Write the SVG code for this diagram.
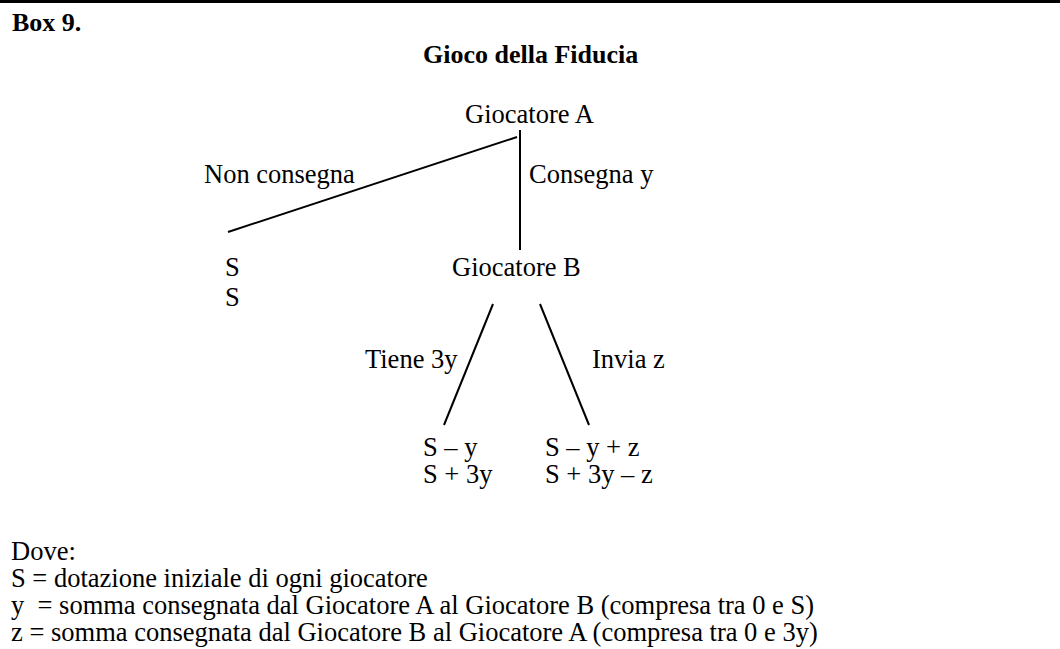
<svg xmlns="http://www.w3.org/2000/svg" width="1060" height="649" viewBox="0 0 1060 649">
<style>
text{font-family:"Liberation Serif","Times New Roman",serif;font-size:26.5px;fill:#000}
.b{font-weight:bold;font-size:26px}
.edge{stroke:#000;stroke-width:2;fill:none}
</style>
<rect x="0" y="0" width="1060" height="649" fill="#fff"/>
<rect x="0" y="0" width="1060" height="3" fill="#000"/>
<g id="header">
<text class="b" x="12" y="31">Box 9.</text>
<text class="b" x="423" y="63">Gioco della Fiducia</text>
</g>
<g id="connectors">
<line class="edge" x1="520" y1="130" x2="520" y2="250"/>
<line class="edge" x1="517" y1="137" x2="228" y2="232"/>
<line class="edge" x1="493" y1="304" x2="444" y2="425"/>
<line class="edge" x1="540" y1="304" x2="589" y2="425"/>
</g>
<g id="edge-labels">
<text x="204" y="183">Non consegna</text>
<text x="529" y="183">Consegna y</text>
<text x="365" y="368">Tiene 3y</text>
<text x="592" y="368">Invia z</text>
</g>
<g id="node-playerA"><text x="465" y="123">Giocatore A</text></g>
<g id="node-playerB"><text x="452" y="276">Giocatore B</text></g>
<g id="node-payoff-no"><text x="225" y="276">S</text><text x="225" y="306">S</text></g>
<g id="node-payoff-keep"><text x="423" y="456">S – y</text><text x="423" y="483">S + 3y</text></g>
<g id="node-payoff-send"><text x="545" y="456">S – y + z</text><text x="545" y="483">S + 3y – z</text></g>
<g id="legend">
<text x="11" y="560">Dove:</text>
<text x="11" y="587">S = dotazione iniziale di ogni giocatore</text>
<text x="11" y="614" xml:space="preserve">y  = somma consegnata dal Giocatore A al Giocatore B (compresa tra 0 e S)</text>
<text x="11" y="641">z = somma consegnata dal Giocatore B al Giocatore A (compresa tra 0 e 3y)</text>
</g>
</svg>
